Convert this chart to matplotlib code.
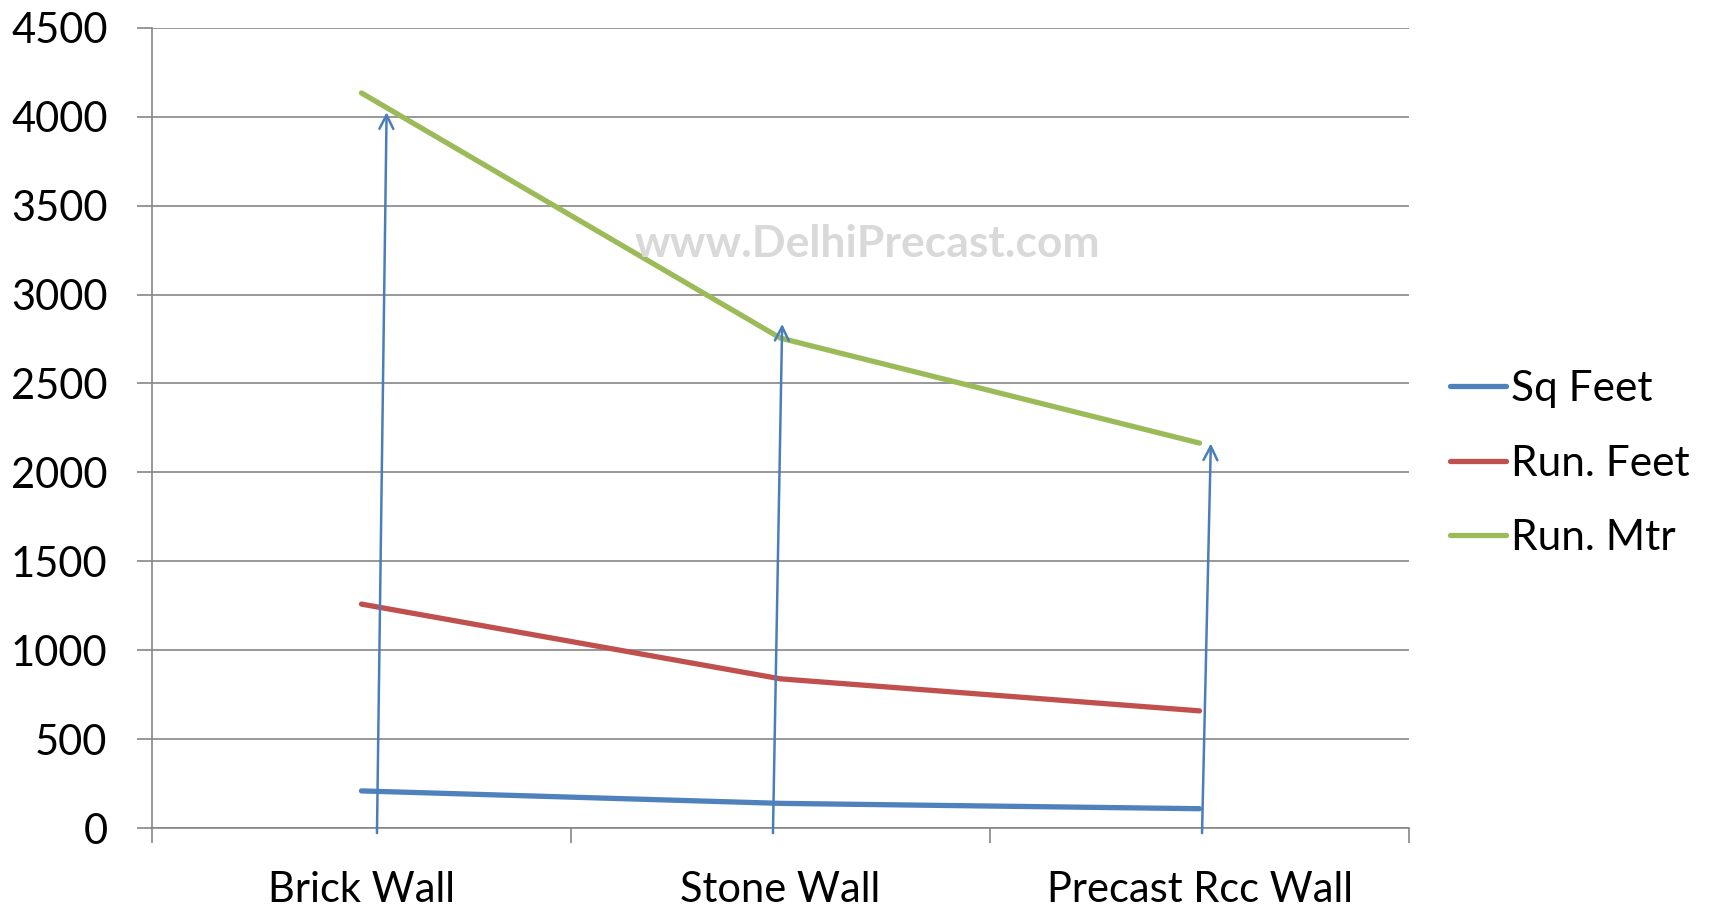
import numpy as np
import matplotlib
matplotlib.use("Agg")
import matplotlib.pyplot as plt

plt.rcParams['font.family'] = ['Lato', 'DejaVu Sans']

# chart values
categories = ['Brick Wall', 'Stone Wall', 'Precast Rcc Wall']
sq_feet = [210, 140, 110]
run_feet = [1260, 840, 660]
run_mtr = [4133, 2755, 2165]

# arrow annotations (category offset, value) -> tip, base
arrow_tips = [(0.06, 4025), (1.004, 2835), (2.027, 2163)]
arrow_bases = [(0.037, -27), (0.982, -27), (2.006, -27)]

grid_col = '#868686'

fig = plt.figure(figsize=(17.15, 9.10), dpi=100)
ax = fig.add_axes([0.0886, 0.0898, 0.8216 - 0.0886, 0.9696 - 0.0898])

x = np.arange(len(categories))
ax.plot(x, sq_feet, color='#4F81BD', lw=3.8, solid_capstyle='round', label='Sq Feet', zorder=3)
ax.plot(x, run_feet, color='#C0504D', lw=3.8, solid_capstyle='round', label='Run. Feet', zorder=3)
ax.plot(x, run_mtr, color='#9BBB59', lw=3.8, solid_capstyle='round', label='Run. Mtr', zorder=3)

for tip, base in zip(arrow_tips, arrow_bases):
    ax.annotate('', xy=tip, xytext=base, annotation_clip=False,
                arrowprops=dict(arrowstyle='->,head_length=1.0,head_width=0.5',
                                color='#4A7EBB', lw=1.8, shrinkA=0, shrinkB=0),
                zorder=4)

ax.set_xlim(-0.5, 2.5)
ax.set_ylim(0, 4500)
ax.set_yticks(np.arange(0, 4501, 500))
ax.yaxis.grid(True, color=grid_col, lw=1.2)
ax.set_axisbelow(True)

ax.set_xticks(x)
ax.set_xticklabels(categories)
ax.set_xticks([-0.5, 0.5, 1.5, 2.5], minor=True)
ax.tick_params(axis='x', which='major', length=0, pad=31, labelsize=30)
ax.tick_params(axis='x', which='minor', length=11, width=1.2, color=grid_col)
ax.tick_params(axis='y', length=11, width=1.2, color=grid_col, pad=21, labelsize=30)

for s in ['top', 'right']:
    ax.spines[s].set_visible(False)
for s in ['left', 'bottom']:
    ax.spines[s].set_color(grid_col)
    ax.spines[s].set_linewidth(1.2)

fig.text(0.5055, 0.732, 'www.DelhiPrecast.com', color='#D9D9D9', fontsize=32,
         fontweight='bold', ha='center', va='center', zorder=1)

fig.legend(loc='center left', bbox_to_anchor=(0.8455, 0.4905), frameon=False,
           fontsize=30.5, handlelength=1.32, handletextpad=0.12, labelspacing=0.86,
           borderpad=0, borderaxespad=0)

fig.savefig('out.png', dpi=100)
